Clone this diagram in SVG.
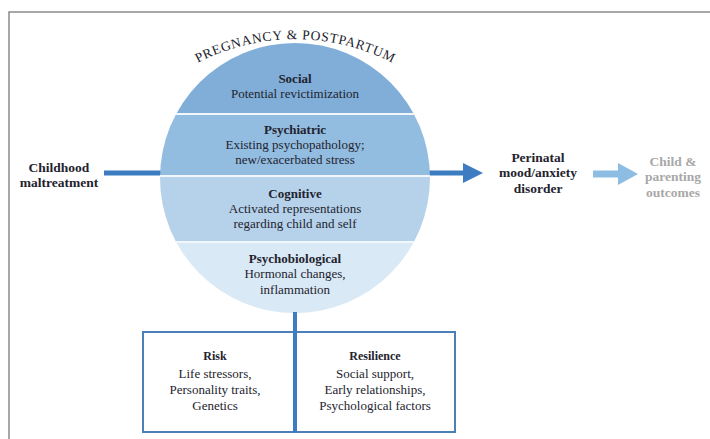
<svg xmlns="http://www.w3.org/2000/svg" width="710" height="439" viewBox="0 0 710 439">
<defs>
<style>
text{font-family:"Liberation Serif","Times New Roman",serif;font-size:13px;fill:#23232e;text-anchor:middle}
.b{font-weight:bold}
.g{fill:#a8a8a8;font-weight:bold}
.frame{stroke:#8a8a8a;stroke-width:1.5;fill:none}
.sep{stroke:#f2f7fc;stroke-width:2}
</style>
<clipPath id="cc"><circle cx="295" cy="178" r="135"/></clipPath>
<path id="arc" d="M170,80 A212,212 0 0,1 420,80"/>
</defs>
<rect width="710" height="439" fill="#fff"/>
<path class="frame" d="M9,439 V12 H710"/>
<g id="connectors">
<line x1="104" y1="173" x2="300" y2="173" stroke="#3d7cc0" stroke-width="5"/>
<line x1="300" y1="173" x2="465" y2="173" stroke="#3d7cc0" stroke-width="5"/>
<polygon points="463,163 483,173 463,183" fill="#3d7cc0"/>
<line x1="593" y1="174" x2="620" y2="174" stroke="#8dbde3" stroke-width="7"/>
<polygon points="618,163 638,174 618,185" fill="#8dbde3"/>
</g>
<g id="circle">
<g clip-path="url(#cc)">
<rect x="150" y="40" width="300" height="74" fill="#80aed8"/>
<rect x="150" y="114" width="300" height="62" fill="#92bce0"/>
<rect x="150" y="176" width="300" height="66" fill="#b6d2eb"/>
<rect x="150" y="242" width="300" height="80" fill="#d9e9f5"/>
<line class="sep" x1="150" y1="114" x2="450" y2="114"/>
<line class="sep" x1="150" y1="176" x2="450" y2="176"/>
<line class="sep" x1="150" y1="242" x2="450" y2="242"/>
</g>
<text style="font-size:13.5px"><textPath href="#arc" startOffset="50%" textLength="202" lengthAdjust="spacing">PREGNANCY &amp; POSTPARTUM</textPath></text>
</g>
<g id="social">
<text class="b" x="295" y="83">Social</text>
<text x="295" y="98">Potential revictimization</text>
</g>
<g id="psychiatric">
<text class="b" x="295" y="134">Psychiatric</text>
<text x="295" y="149">Existing psychopathology;</text>
<text x="295" y="164">new/exacerbated stress</text>
</g>
<g id="cognitive">
<text class="b" x="295" y="198">Cognitive</text>
<text x="295" y="213">Activated representations</text>
<text x="295" y="228">regarding child and self</text>
</g>
<g id="psychobiological">
<text class="b" x="295" y="263">Psychobiological</text>
<text x="295" y="278">Hormonal changes,</text>
<text x="295" y="294">inflammation</text>
</g>
<g id="childhood">
<text class="b" x="59" y="172" style="font-size:13.5px">Childhood</text>
<text class="b" x="59" y="187" style="font-size:13.5px">maltreatment</text>
</g>
<g id="perinatal">
<text class="b" x="538" y="162" style="font-size:13.5px">Perinatal</text>
<text class="b" x="538" y="177" style="font-size:13.5px">mood/anxiety</text>
<text class="b" x="538" y="193" style="font-size:13.5px">disorder</text>
</g>
<g id="outcomes">
<text class="g" x="673" y="166" style="font-size:13.5px">Child &amp;</text>
<text class="g" x="673" y="181" style="font-size:13.5px">parenting</text>
<text class="g" x="673" y="197" style="font-size:13.5px">outcomes</text>
</g>
<g id="boxes">
<rect x="143" y="332" width="312" height="100" fill="#fff" stroke="#4a7fb8" stroke-width="2"/>
<line x1="295" y1="312" x2="295" y2="432" stroke="#3d7cc0" stroke-width="4"/>
</g>
<g id="risk">
<text class="b" x="215" y="360" style="font-size:12px">Risk</text>
<text x="215" y="378">Life stressors,</text>
<text x="215" y="394">Personality traits,</text>
<text x="215" y="410">Genetics</text>
</g>
<g id="resilience">
<text class="b" x="375" y="360" style="font-size:12px">Resilience</text>
<text x="375" y="378">Social support,</text>
<text x="375" y="394">Early relationships,</text>
<text x="375" y="410">Psychological factors</text>
</g>
</svg>
